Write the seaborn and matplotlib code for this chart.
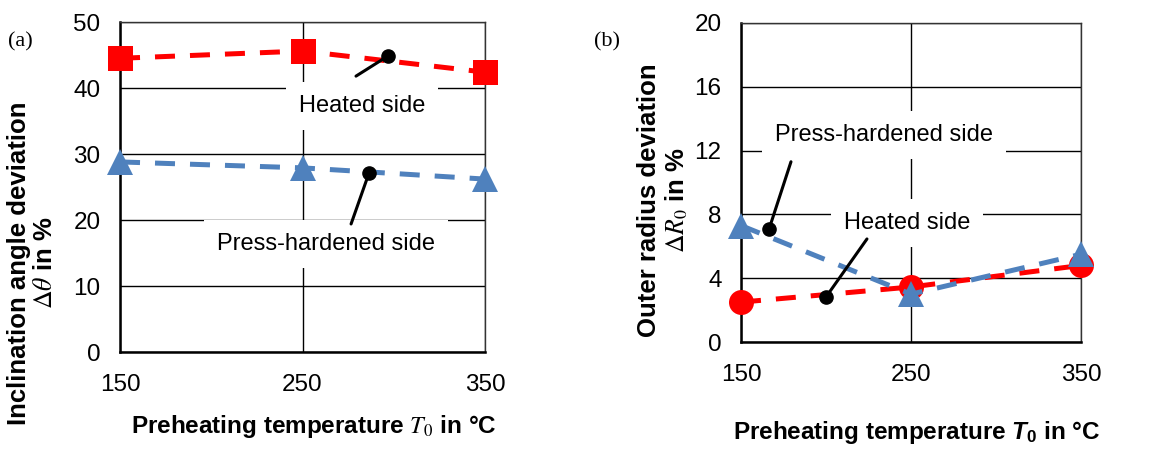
import numpy as np
import seaborn as sns
from matplotlib import pyplot as plt

# preheating temperatures and measured deviations
temps = [150, 250, 350]
angle_heated = [44.5, 45.6, 42.4]     # (a) inclination angle, heated side
angle_press = [28.8, 27.9, 26.2]      # (a) inclination angle, press-hardened side
radius_heated = [2.5, 3.45, 4.8]      # (b) outer radius, heated side
radius_press = [7.3, 3.0, 5.5]        # (b) outer radius, press-hardened side

red = '#FF0000'
blue = '#4F81BD'

sns.set_style('white')
plt.rcParams['font.family'] = ['Liberation Sans', 'DejaVu Sans']
plt.rcParams['text.color'] = 'black'
plt.rcParams['axes.labelcolor'] = 'black'
plt.rcParams['mathtext.fontset'] = 'custom'
plt.rcParams['mathtext.rm'] = 'Liberation Sans:bold'
plt.rcParams['mathtext.it'] = 'Liberation Sans:italic:bold'
plt.rcParams['mathtext.bf'] = 'Liberation Sans:bold'


def style_axis(ax, ymax, ystep):
    ax.set_xlim(150, 350)
    ax.set_ylim(0, ymax)
    ax.set_xticks(temps)
    ax.set_yticks(np.arange(0, ymax + 1, ystep))
    ax.grid(True, color='black', lw=1.0)
    ax.set_axisbelow(True)
    ax.tick_params(length=0, labelsize=17.5, colors='black')
    ax.tick_params(axis='x', pad=16)
    ax.tick_params(axis='y', pad=14)
    for s in ['left', 'bottom']:
        ax.spines[s].set_linewidth(1.8)
        ax.spines[s].set_color('black')
    for s in ['top', 'right']:
        ax.spines[s].set_linewidth(1.0)
        ax.spines[s].set_color('#333333')


def draw_series(ax, y, color, marker, ms):
    sns.lineplot(x=temps, y=y, ax=ax, color=color, lw=3.6, marker=marker,
                 markersize=ms, markeredgewidth=0, clip_on=False, zorder=3)
    ax.lines[-1].set_dashes([4, 3])


def side_label(ax, text, txy, dot, end):
    ax.plot([dot[0], end[0]], [dot[1], end[1]], color='black', lw=2.2, zorder=4)
    ax.plot(dot[0], dot[1], 'o', color='black', ms=9.5, zorder=4)
    ax.text(txy[0], txy[1], text, ha='center', va='center', fontsize=17, zorder=1.5,
            bbox=dict(boxstyle='square,pad=0.55', fc='white', ec='none'))


fig = plt.figure(figsize=(11.71, 4.49), dpi=100)
ax_a = fig.add_axes([0.1025, 0.216, 0.3117, 0.735])
ax_b = fig.add_axes([0.6328, 0.2383, 0.2903, 0.7105])

# *** (a) inclination angle ***
style_axis(ax_a, 50, 10)
draw_series(ax_a, angle_heated, red, 's', 18)
draw_series(ax_a, angle_press, blue, '^', 19)
side_label(ax_a, 'Heated side', (282.6, 37.3), (296.8, 44.85), (279.3, 41.8))
side_label(ax_a, 'Press-hardened side', (262.6, 16.3), (286.4, 27.1), (276.6, 19.4))
ax_a.set_xlabel('Preheating temperature $T_0$ in °C', fontsize=17.5, fontweight='bold',
                math_fontfamily='stix', va='center')
ax_a.set_ylabel('Inclination angle deviation\n$\\Delta\\theta$ in %', fontsize=18.5,
                fontweight='bold', math_fontfamily='stix', linespacing=1.1, va='center')
ax_a.xaxis.set_label_coords(0.53, -0.227)
ax_a.yaxis.set_label_coords(-0.24, 0.27)

# *** (b) outer radius ***
style_axis(ax_b, 20, 4)
draw_series(ax_b, radius_heated, red, 'o', 18)
draw_series(ax_b, radius_press, blue, '^', 19)
side_label(ax_b, 'Press-hardened side', (234.1, 13.0), (166.5, 7.08), (179.4, 11.3))
side_label(ax_b, 'Heated side', (247.6, 7.46), (200.0, 2.82), (224.1, 6.46))
ax_b.set_xlabel('Preheating temperature $T_0$ in °C', fontsize=17.5, fontweight='bold',
                math_fontfamily='custom', va='center')
ax_b.set_ylabel('Outer radius deviation\n$\\Delta R_0$ in %', fontsize=18.5,
                fontweight='bold', math_fontfamily='stix', linespacing=1.1, va='center')
ax_b.xaxis.set_label_coords(0.518, -0.285)
ax_b.yaxis.set_label_coords(-0.229, 0.445)

fig.text(8 / 1171, 1 - 42 / 449, '(a)', family='Liberation Serif', fontsize=16, va='center')
fig.text(594 / 1171, 1 - 42 / 449, '(b)', family='Liberation Serif', fontsize=16, va='center')

fig.savefig('out.png', dpi=100)
